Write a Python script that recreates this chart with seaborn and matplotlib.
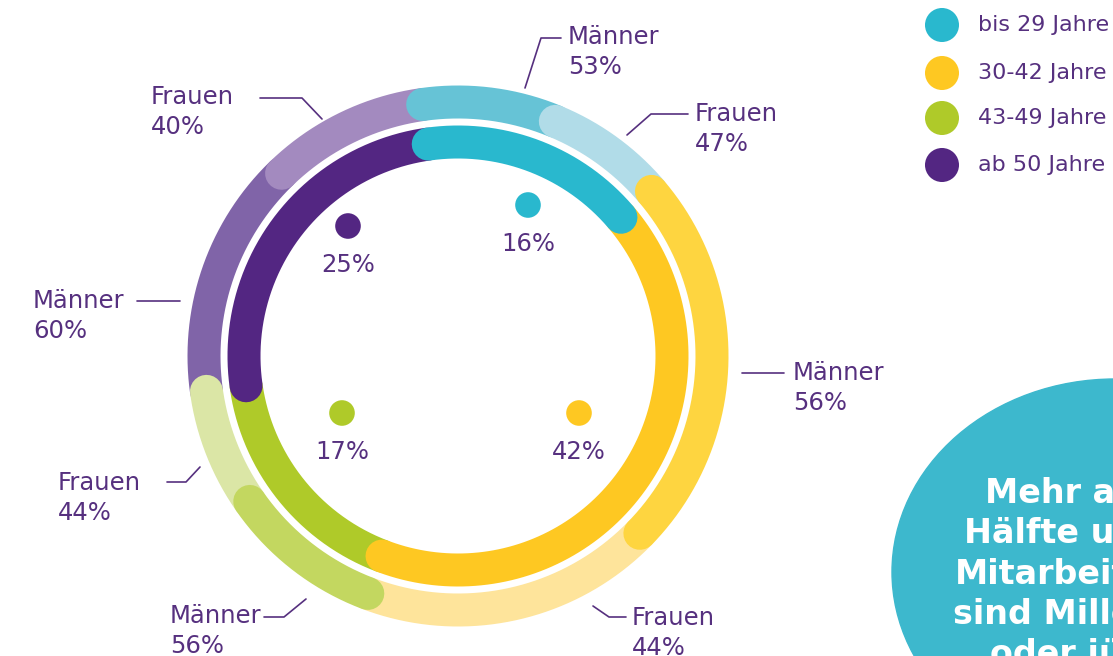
import numpy as np
import pandas as pd
import matplotlib
matplotlib.use("Agg")
import matplotlib.pyplot as plt
from matplotlib.patches import Ellipse
import seaborn as sns

# ---------------- data ----------------
age_groups = ["bis 29 Jahre", "30-42 Jahre", "43-49 Jahre", "ab 50 Jahre"]
age_share = [16, 42, 17, 25]            # % of employees per age group
men_share = [53, 56, 56, 60]            # % men within the group
women_share = [47, 44, 44, 40]          # % women within the group
sex_labels = ["Männer", "Frauen"]
bubble_text = "Mehr als die\nHälfte unserer\nMitarbeitenden\nsind Millennials\noder jünger"

# ---------------- style ----------------
inner_colors = ["#29B8CE", "#FEC822", "#AFCA29", "#532682"]
outer_men_colors = ["#66C3D6", "#FED540", "#C3D760", "#8064A8"]
outer_women_colors = ["#B1DCE8", "#FEE49B", "#DBE6A6", "#A38ABF"]
text_color = "#56307F"
bubble_color = "#3DB8CD"

sns.set_theme(style="white")
plt.rcParams["font.family"] = ["DejaVu Sans"]

W, H = 1113, 656
fig = plt.figure(figsize=(W / 100, H / 100), dpi=100)
ax = fig.add_axes([0, 0, 1, 1])
ax.set_xlim(0, W)
ax.set_ylim(H, 0)
ax.axis("off")

cx, cy = 458, 356
r_inner, r_outer = 214, 254
ring_px = 33
lw = ring_px * 0.72
start = -8.0  # degrees clockwise from top


def arc(a0, a1, r, color, z):
    th = np.radians(np.linspace(a0, a1, 200))
    df = pd.DataFrame({"x": cx + r * np.sin(th), "y": cy - r * np.cos(th)})
    sns.lineplot(data=df, x="x", y="y", sort=False, estimator=None, color=color,
                 linewidth=lw, solid_capstyle="round", ax=ax, zorder=z)


# boundaries from data
total = sum(age_share)
bounds = [start]
for s in age_share:
    bounds.append(bounds[-1] + s / total * 360)

# inner ring: draw order green, yellow, purple, teal
inner_z = {2: 1, 1: 2, 3: 3, 0: 4}
for i in [2, 1, 3, 0]:
    arc(bounds[i], bounds[i + 1], r_inner, inner_colors[i], inner_z[i])

# outer ring segments
segs = {}
for i in range(4):
    a0, a1 = bounds[i], bounds[i + 1]
    mid = a0 + (a1 - a0) * men_share[i] / (men_share[i] + women_share[i])
    segs[(i, 0)] = (a0, mid, outer_men_colors[i])
    segs[(i, 1)] = (mid, a1, outer_women_colors[i])
order = [(3, 0), (3, 1), (0, 0), (0, 1), (1, 1), (1, 0), (2, 1), (2, 0)]
for z, key in enumerate(order):
    a0, a1, c = segs[key]
    arc(a0, a1, r_outer, c, 10 + z)

ax.set_xlabel("")
ax.set_ylabel("")

# ---------------- inner percentage dots ----------------
dot_pos = [(528, 205), (579, 413), (342, 413), (348, 226)]
for i, (x, y) in enumerate(dot_pos):
    ax.scatter([x], [y], s=340, color=inner_colors[i], edgecolors="none", zorder=30)
    ax.text(x, y + 39, f"{age_share[i]}%", ha="center", va="center",
            fontsize=17.5, color=text_color, zorder=30)

# ---------------- outer labels with leader lines ----------------
label_layout = [
    # (group, sex, text left x, text y, leader polyline)
    (0, 0, 568, 37, [(525, 88), (541, 38), (561, 38)]),
    (0, 1, 695, 114, [(627, 135), (651, 114), (688, 114)]),
    (1, 0, 793, 373, [(742, 373), (784, 373)]),
    (1, 1, 632, 618, [(593, 606), (609, 617), (626, 617)]),
    (2, 0, 170, 616, [(306, 599), (284, 617), (264, 617)]),
    (2, 1, 58, 483, [(200, 467), (186, 482), (167, 482)]),
    (3, 0, 33, 301, [(180, 301), (137, 301)]),
    (3, 1, 151, 97, [(322, 119), (302, 98), (260, 98)]),
]
for g, s, tx, ty, line in label_layout:
    val = men_share[g] if s == 0 else women_share[g]
    ax.text(tx, ty, sex_labels[s], ha="left", va="center",
            fontsize=17.5, color=text_color, zorder=30)
    ax.text(tx, ty + 30, f"{val}%", ha="left", va="center",
            fontsize=17.5, color=text_color, zorder=30)
    xs, ys = zip(*line)
    ax.plot(xs, ys, color=text_color, linewidth=1.2, zorder=30)

# ---------------- legend ----------------
leg_y = [25, 73, 118, 165]
for i, name in enumerate(age_groups):
    ax.scatter([942], [leg_y[i]], s=600, color=inner_colors[i], edgecolors="none", zorder=30)
    ax.text(978, leg_y[i], name, ha="left", va="center", fontsize=16,
            color=text_color, zorder=30)

# ---------------- bubble ----------------
ax.add_patch(Ellipse((1115, 572), 446, 386, color=bubble_color, zorder=20))
ax.text(1100, 574, bubble_text, ha="center", va="center", fontsize=24,
        fontweight="bold", color="white", linespacing=1.28, zorder=31)

fig.savefig("out.png", dpi=100)
